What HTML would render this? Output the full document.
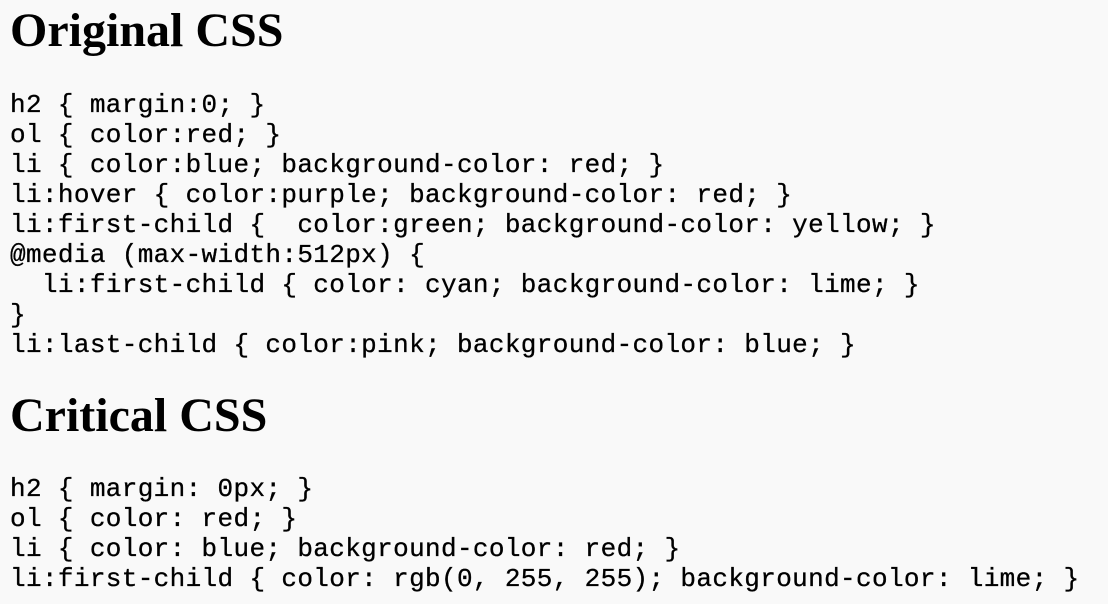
<!DOCTYPE html>
<html><head><style>
body{margin:0;width:1108px;height:604px;background:#f9f9f9;position:relative;overflow:hidden;color:#000}
h2{position:absolute;left:10px;margin:0;font:bold 48px/48px "Liberation Serif",serif}
pre{position:absolute;left:10px;margin:0;font:26px/30px "Liberation Mono",monospace;letter-spacing:0.36px;white-space:pre;-webkit-text-stroke:0.3px #000}
</style></head><body>
<h2 style="top:7px">Original CSS</h2>
<pre style="top:90px">h2 { margin:0; }
ol { color:red; }
li { color:blue; background-color: red; }
li:hover { color:purple; background-color: red; }
li:first-child {  color:green; background-color: yellow; }
@media (max-width:512px) {
  li:first-child { color: cyan; background-color: lime; }
}
li:last-child { color:pink; background-color: blue; }</pre>
<h2 style="top:392px">Critical CSS</h2>
<pre style="top:474px">h2 { margin: 0px; }
ol { color: red; }
li { color: blue; background-color: red; }
li:first-child { color: rgb(0, 255, 255); background-color: lime; }</pre>
</body></html>
